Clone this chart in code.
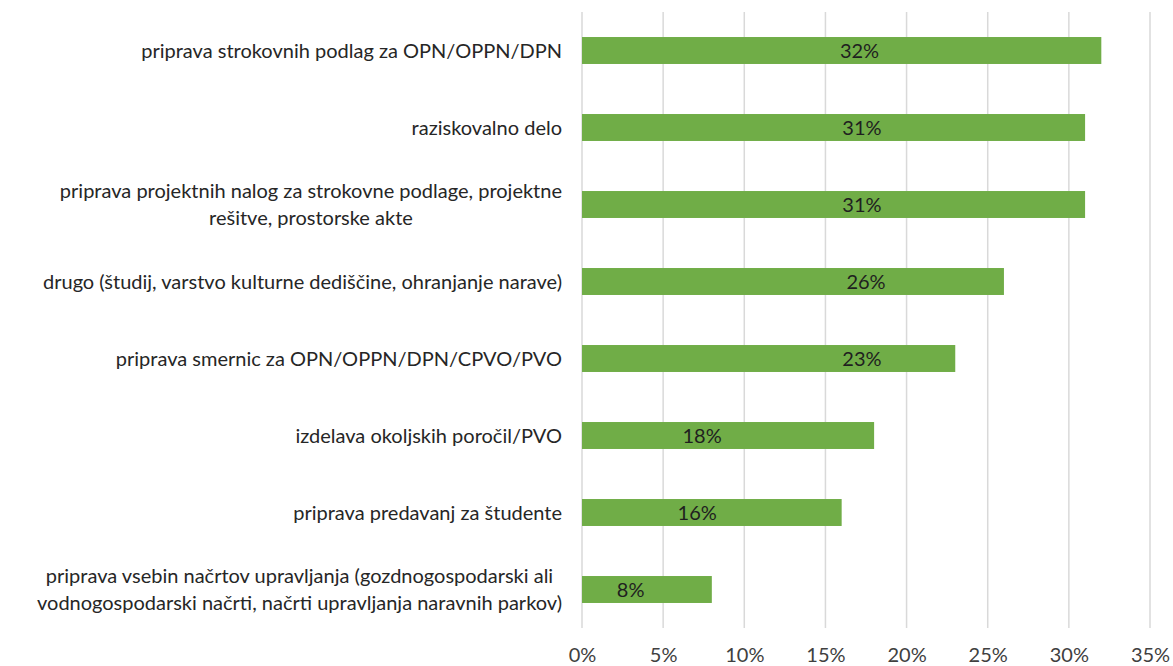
<!DOCTYPE html>
<html>
<head>
<meta charset="utf-8">
<script src="https://cdn.jsdelivr.net/npm/d3@7"></script>
<style>
  body { margin: 0; background: #fff; }
  text { font-family: Lato, 'Open Sans', sans-serif; }
</style>
</head>
<body>
<div id="chart"></div>
<script>
const categories = [
  'priprava strokovnih podlag za OPN/OPPN/DPN',
  'raziskovalno delo',
  'priprava projektnih nalog za strokovne podlage, projektne\nrešitve, prostorske akte',
  'drugo (študij, varstvo kulturne dediščine, ohranjanje narave)',
  'priprava smernic za OPN/OPPN/DPN/CPVO/PVO',
  'izdelava okoljskih poročil/PVO',
  'priprava predavanj za študente',
  'priprava vsebin načrtov upravljanja (gozdnogospodarski ali\nvodnogospodarski načrti, načrti upravljanja naravnih parkov)'
]
const values = [32, 31, 31, 26, 23, 18, 16, 8]
const ticks = [0, 5, 10, 15, 20, 25, 30, 35]

const width = 1173
const height = 666
const margin = { top: 12, right: 23, bottom: 38, left: 582 }
const fontSize = 20

// where Excel left each data label, in axis units
const labelAt = [17.1, 17.25, 17.25, 17.5, 17.25, 7.4, 7.1, 3.0]

const svg = d3
  .select('#chart')
  .append('svg')
  .attr('width', width)
  .attr('height', height)

const x = d3
  .scaleLinear()
  .domain([0, 35])
  .range([margin.left, width - margin.right])

const y = d3
  .scaleBand()
  .domain(categories)
  .range([margin.top, height - margin.bottom])
  .paddingInner(0.65)
  .paddingOuter(0.325)

// grid
svg
  .append('g')
  .selectAll('line')
  .data(ticks)
  .enter()
  .append('line')
  .attr('x1', (d) => x(d))
  .attr('x2', (d) => x(d))
  .attr('y1', margin.top)
  .attr('y2', height - margin.bottom)
  .attr('stroke', '#d9d9d9')
  .attr('stroke-width', 1.5)

// x axis labels
const xAxis = svg
  .append('g')
  .attr('transform', `translate(0, ${height - margin.bottom})`)
  .call(
    d3
      .axisBottom(x)
      .tickValues(ticks)
      .tickFormat((d) => d + '%')
      .tickSize(0)
      .tickPadding(20)
  )
xAxis.select('.domain').remove()
xAxis
  .selectAll('text')
  .attr('font-size', fontSize)
  .attr('fill', '#404040')
  .style('font-family', 'Lato, sans-serif')

// bars
svg
  .selectAll('.bar')
  .data(values)
  .enter()
  .append('rect')
  .attr('class', 'bar')
  .attr('x', x(0))
  .attr('y', (d, i) => y(categories[i]))
  .attr('width', (d) => x(d) - x(0))
  .attr('height', y.bandwidth())
  .attr('fill', '#70ad47')

// data labels
svg
  .selectAll('.val')
  .data(values)
  .enter()
  .append('text')
  .attr('class', 'val')
  .attr('x', (d, i) => x(labelAt[i]))
  .attr('y', (d, i) => y(categories[i]) + y.bandwidth() / 2)
  .attr('dy', '0.35em')
  .attr('text-anchor', 'middle')
  .attr('font-size', fontSize)
  .attr('fill', '#1f1f1f')
  .text((d) => d + '%')

// category labels, block right-aligned, lines centred to each other
const lineH = 27
categories.forEach((c, i) => {
  const lines = c.split('\n')
  const g = svg.append('g')
  const t = g
    .append('text')
    .attr('font-size', fontSize)
    .attr('fill', '#262626')
    .attr('text-anchor', 'middle')
  lines.forEach((ln, j) => {
    t.append('tspan')
      .attr('x', 0)
      .attr('y', (j - (lines.length - 1) / 2) * lineH)
      .attr('dy', '0.35em')
      .text(ln)
  })
  const w = t.node().getBBox().width
  g.attr(
    'transform',
    `translate(${margin.left - 20 - w / 2}, ${y(c) + y.bandwidth() / 2})`
  )
})
</script>
</body>
</html>
